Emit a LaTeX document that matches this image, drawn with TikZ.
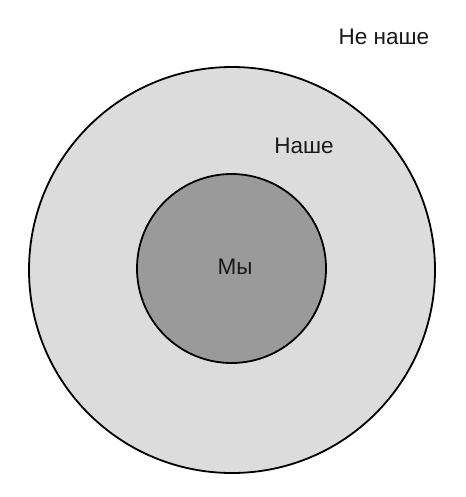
\documentclass[tikz,border=0pt]{standalone}
\usepackage{fontspec}
\setmainfont{Liberation Sans}
\usepackage{xcolor}
\definecolor{ours}{HTML}{DCDCDC}
\definecolor{us}{HTML}{9A9A9A}

\begin{document}
\begin{tikzpicture}[x=1pt,y=-1pt,
      zone/.style={circle,draw=black,line width=1.8pt,inner sep=0pt},
      lbl/.style={font=\fontsize{22.5}{26}\selectfont,text=black!90,inner sep=0pt}
]
      \useasboundingbox[fill=white] (0,0) rectangle (465,497);
      \node[zone,fill=ours,minimum size=406pt] at (232,270) (nashe) {};
      \node[zone,fill=us,minimum size=189pt] at (231.5,268.5) (my) {};
      \node[lbl] at (235,267) (tmy) {Мы};
      \node[lbl] at (304,146) (tnashe) {Наше};
      \node[lbl] at (384,37) (tnenashe) {Не наше};
\end{tikzpicture}
\end{document}
